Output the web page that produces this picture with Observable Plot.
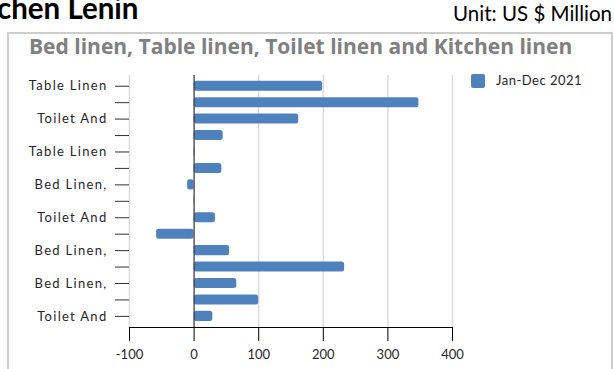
<!DOCTYPE html>
<html>
<head>
<meta charset="utf-8">
<script src="https://cdn.jsdelivr.net/npm/d3@7"></script>
<script src="https://cdn.jsdelivr.net/npm/@observablehq/plot@0.6"></script>
<style>
  body { margin: 0; background: #fff; }
  #wrap { position: relative; width: 614px; height: 369px; overflow: hidden; font-family: Lato, sans-serif; }
  #frame { position: absolute; left: 7px; top: 32px; width: 606px; height: 400px; border: 2px solid #cdcdcd; box-sizing: border-box; }
  #plot { position: absolute; left: 0; top: 0; }
  .t { position: absolute; white-space: nowrap; line-height: 1; }
  #title { left: -3px; top: -7px; font-size: 29.5px; font-weight: 700; color: #000; }
  #unit { right: 2px; top: 2.5px; font-size: 20.5px; color: #000; }
  #sub { left: 29px; top: 36px; font-size: 21px; font-weight: 700; color: #808080; font-family: "Open Sans", sans-serif; }
  #legsw { position: absolute; left: 471px; top: 74px; width: 14px; height: 14px; background: #4f81bd; border-radius: 2px; }
  #legtx { left: 496px; top: 73.5px; font-size: 13px; letter-spacing: 0.5px; color: #262626; }
  [aria-label="y-axis tick label"] text { letter-spacing: 1.3px; }
</style>
</head>
<body>
<div id="wrap">
  <div id="frame"></div>
  <div id="plot"></div>
  <div class="t" id="title">chen Lenin</div>
  <div class="t" id="unit">Unit: US $ Million</div>
  <div class="t" id="sub">Bed linen, Table linen, Toilet linen and Kitchen linen</div>
  <div id="legsw"></div>
  <div class="t" id="legtx">Jan-Dec 2021</div>
</div>
<script>
const categories = [
  "Table Linen, Knitted",
  "Bed Linen, Printed, Of Cotton",
  "Toilet And Kitchen Linen, Of Cotton Terry",
  "Bed Linen, Of Man-Made Fibres",
  "Table Linen, Of Flax",
  "Table Linen, Of Man-Made Fibres",
  "Bed Linen, Knitted",
  "Toilet And Kitchen Linen, Of Flax",
  "Toilet And Kitchen Linen, Of Man-Made Fibres",
  "Table Linen, Of Cotton",
  "Bed Linen, Printed, Of Man-Made Fibres",
  "Bed Linen, Of Cotton",
  "Bed Linen, Of Flax",
  "Table Linen, Of Other Textile",
  "Toilet And Kitchen Linen, Of Other Textile"
];
const tickLabels = [
  "Table Linen", "", "Toilet And", "", "Table Linen", "", "Bed Linen,", "",
  "Toilet And", "", "Bed Linen,", "", "Bed Linen,", "", "Toilet And"
];
const values = [199, 348, 162, 45, 1, 43, -10, 0.5, 33, -58, 55, 233, 66, 100, 29];
const xTicks = [-100, 0, 100, 200, 300, 400];
const seriesName = "Jan-Dec 2021";

const data = categories.map((c, i) => ({category: c, value: values[i], series: seriesName}));

const chart = Plot.plot({
  width: 614,
  height: 369,
  marginLeft: 129,
  marginRight: 162,
  marginTop: 75,
  marginBottom: 42,
  style: {fontFamily: "Lato, sans-serif", background: "transparent", color: "#262626", overflow: "visible"},
  x: {domain: [-100, 400]},
  y: {domain: categories, padding: 0, round: false, insetTop: 2.5, insetBottom: 2.9},
  marks: [
    Plot.ruleX(xTicks.filter(d => d !== 0), {stroke: "#d9d9d9", strokeWidth: 1.3}),
    Plot.barX(data, {x: "value", y: "category", fill: "#4f81bd", insetTop: 3.2, insetBottom: 3.2, rx: 2.5}),
    Plot.ruleX([0], {stroke: "#404040", strokeWidth: 1.3}),
    Plot.frame({anchor: "bottom", stroke: "#000", strokeWidth: 1.2}),
    Plot.axisX({ticks: xTicks, tickSize: 14, tickPadding: 8, fontSize: 13, stroke: "#000", label: null,
      tickFormat: d => String(d)}),
    Plot.axisY({tickSize: 14, tickPadding: 8, fontSize: 13, stroke: "#333", label: null,
      tickFormat: d => tickLabels[categories.indexOf(d)]})
  ]
});
document.getElementById("plot").appendChild(chart);
</script>
</body>
</html>
